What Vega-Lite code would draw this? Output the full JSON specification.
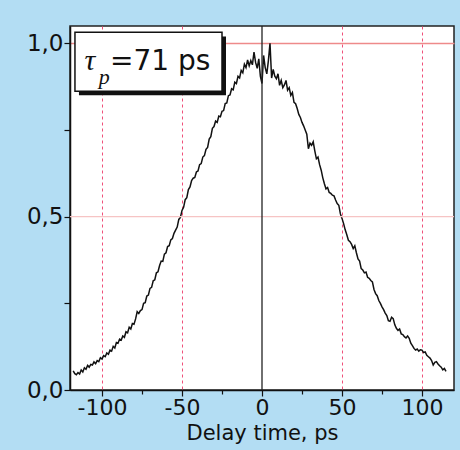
{
  "$schema": "https://vega.github.io/schema/vega-lite/v6.json",
  "width": 384,
  "height": 364,
  "autosize": {"type": "none"},
  "padding": {"left": 70, "top": 26, "right": 6, "bottom": 60},
  "background": "#b3ddf3",
  "config": {
    "view": {"fill": "white", "stroke": "#222222", "strokeWidth": 1.5},
    "font": "DejaVu Sans"
  },
  "datasets": {
    "curve": [
      {"t": -118, "s": 0.055}, {"t": -117, "s": 0.047}, {"t": -116, "s": 0.044}, {"t": -115, "s": 0.05}, {"t": -114, "s": 0.046},
      {"t": -113, "s": 0.058}, {"t": -112, "s": 0.052}, {"t": -111, "s": 0.064}, {"t": -110, "s": 0.06}, {"t": -109, "s": 0.071},
      {"t": -108, "s": 0.066}, {"t": -107, "s": 0.074}, {"t": -106, "s": 0.072}, {"t": -105, "s": 0.081}, {"t": -104, "s": 0.076},
      {"t": -103, "s": 0.085}, {"t": -102, "s": 0.082}, {"t": -101, "s": 0.093}, {"t": -100, "s": 0.089}, {"t": -99, "s": 0.099},
      {"t": -98, "s": 0.096}, {"t": -97, "s": 0.107}, {"t": -96, "s": 0.103}, {"t": -95, "s": 0.115}, {"t": -94, "s": 0.112},
      {"t": -93, "s": 0.126}, {"t": -92, "s": 0.121}, {"t": -91, "s": 0.137}, {"t": -90, "s": 0.135}, {"t": -89, "s": 0.147},
      {"t": -88, "s": 0.144}, {"t": -87, "s": 0.156}, {"t": -86, "s": 0.152}, {"t": -85, "s": 0.168}, {"t": -84, "s": 0.165},
      {"t": -83, "s": 0.181}, {"t": -82, "s": 0.176}, {"t": -81, "s": 0.192}, {"t": -80, "s": 0.19}, {"t": -79, "s": 0.205},
      {"t": -78, "s": 0.226}, {"t": -77, "s": 0.221}, {"t": -76, "s": 0.229}, {"t": -75, "s": 0.232}, {"t": -74, "s": 0.25},
      {"t": -73, "s": 0.252}, {"t": -72, "s": 0.271}, {"t": -71, "s": 0.274}, {"t": -70, "s": 0.293}, {"t": -69, "s": 0.296},
      {"t": -68, "s": 0.315}, {"t": -67, "s": 0.318}, {"t": -66, "s": 0.338}, {"t": -65, "s": 0.341}, {"t": -64, "s": 0.359},
      {"t": -63, "s": 0.372}, {"t": -62, "s": 0.371}, {"t": -61, "s": 0.392}, {"t": -60, "s": 0.396}, {"t": -59, "s": 0.414},
      {"t": -58, "s": 0.416}, {"t": -57, "s": 0.433}, {"t": -56, "s": 0.437}, {"t": -55, "s": 0.452}, {"t": -54, "s": 0.461},
      {"t": -53, "s": 0.47}, {"t": -52, "s": 0.492}, {"t": -51, "s": 0.498}, {"t": -50, "s": 0.518}, {"t": -49, "s": 0.527},
      {"t": -48, "s": 0.549}, {"t": -47, "s": 0.555}, {"t": -46, "s": 0.578}, {"t": -45, "s": 0.586}, {"t": -44, "s": 0.604},
      {"t": -43, "s": 0.611}, {"t": -42, "s": 0.613}, {"t": -41, "s": 0.629}, {"t": -40, "s": 0.632}, {"t": -39, "s": 0.65},
      {"t": -38, "s": 0.653}, {"t": -37, "s": 0.672}, {"t": -36, "s": 0.676}, {"t": -35, "s": 0.694}, {"t": -34, "s": 0.7},
      {"t": -33, "s": 0.724}, {"t": -32, "s": 0.731}, {"t": -31, "s": 0.755}, {"t": -30, "s": 0.76}, {"t": -29, "s": 0.776},
      {"t": -28, "s": 0.772}, {"t": -27, "s": 0.79}, {"t": -26, "s": 0.788}, {"t": -25, "s": 0.804}, {"t": -24, "s": 0.806},
      {"t": -23, "s": 0.826}, {"t": -22, "s": 0.828}, {"t": -21, "s": 0.849}, {"t": -20, "s": 0.851}, {"t": -19, "s": 0.869},
      {"t": -18, "s": 0.866}, {"t": -17, "s": 0.888}, {"t": -16, "s": 0.884}, {"t": -15, "s": 0.905}, {"t": -14, "s": 0.9},
      {"t": -13, "s": 0.922}, {"t": -12, "s": 0.915}, {"t": -11, "s": 0.94}, {"t": -10, "s": 0.93}, {"t": -9, "s": 0.952},
      {"t": -8, "s": 0.935}, {"t": -7, "s": 0.95}, {"t": -6, "s": 0.938}, {"t": -5, "s": 0.975}, {"t": -4, "s": 0.945},
      {"t": -3, "s": 0.928}, {"t": -2, "s": 0.955}, {"t": -1, "s": 0.905}, {"t": 0, "s": 0.884}, {"t": 1, "s": 0.965},
      {"t": 2, "s": 0.93}, {"t": 3, "s": 0.912}, {"t": 4, "s": 0.95}, {"t": 5, "s": 1.0}, {"t": 6, "s": 0.9},
      {"t": 7, "s": 0.925}, {"t": 8, "s": 0.905}, {"t": 9, "s": 0.898}, {"t": 10, "s": 0.912}, {"t": 11, "s": 0.879},
      {"t": 12, "s": 0.893}, {"t": 13, "s": 0.872}, {"t": 14, "s": 0.88}, {"t": 15, "s": 0.893}, {"t": 16, "s": 0.865},
      {"t": 17, "s": 0.872}, {"t": 18, "s": 0.85}, {"t": 19, "s": 0.858}, {"t": 20, "s": 0.83}, {"t": 21, "s": 0.826},
      {"t": 22, "s": 0.812}, {"t": 23, "s": 0.795}, {"t": 24, "s": 0.786}, {"t": 25, "s": 0.772}, {"t": 26, "s": 0.762},
      {"t": 27, "s": 0.75}, {"t": 28, "s": 0.738}, {"t": 29, "s": 0.696}, {"t": 30, "s": 0.712}, {"t": 31, "s": 0.706},
      {"t": 32, "s": 0.716}, {"t": 33, "s": 0.69}, {"t": 34, "s": 0.667}, {"t": 35, "s": 0.672}, {"t": 36, "s": 0.65},
      {"t": 37, "s": 0.634}, {"t": 38, "s": 0.612}, {"t": 39, "s": 0.595}, {"t": 40, "s": 0.58}, {"t": 41, "s": 0.584},
      {"t": 42, "s": 0.57}, {"t": 43, "s": 0.567}, {"t": 44, "s": 0.562}, {"t": 45, "s": 0.56}, {"t": 46, "s": 0.548},
      {"t": 47, "s": 0.538}, {"t": 48, "s": 0.533}, {"t": 49, "s": 0.508}, {"t": 50, "s": 0.495}, {"t": 51, "s": 0.48},
      {"t": 52, "s": 0.462}, {"t": 53, "s": 0.448}, {"t": 54, "s": 0.432}, {"t": 55, "s": 0.428}, {"t": 56, "s": 0.42},
      {"t": 57, "s": 0.408}, {"t": 58, "s": 0.416}, {"t": 59, "s": 0.396}, {"t": 60, "s": 0.378}, {"t": 61, "s": 0.372},
      {"t": 62, "s": 0.35}, {"t": 63, "s": 0.346}, {"t": 64, "s": 0.338}, {"t": 65, "s": 0.34}, {"t": 66, "s": 0.325},
      {"t": 67, "s": 0.322}, {"t": 68, "s": 0.316}, {"t": 69, "s": 0.312}, {"t": 70, "s": 0.29}, {"t": 71, "s": 0.278},
      {"t": 72, "s": 0.272}, {"t": 73, "s": 0.258}, {"t": 74, "s": 0.25}, {"t": 75, "s": 0.24}, {"t": 76, "s": 0.232},
      {"t": 77, "s": 0.222}, {"t": 78, "s": 0.215}, {"t": 79, "s": 0.2}, {"t": 80, "s": 0.198}, {"t": 81, "s": 0.21},
      {"t": 82, "s": 0.206}, {"t": 83, "s": 0.188}, {"t": 84, "s": 0.178}, {"t": 85, "s": 0.172}, {"t": 86, "s": 0.176},
      {"t": 87, "s": 0.162}, {"t": 88, "s": 0.16}, {"t": 89, "s": 0.154}, {"t": 90, "s": 0.15}, {"t": 91, "s": 0.156},
      {"t": 92, "s": 0.149}, {"t": 93, "s": 0.135}, {"t": 94, "s": 0.128}, {"t": 95, "s": 0.12}, {"t": 96, "s": 0.115},
      {"t": 97, "s": 0.118}, {"t": 98, "s": 0.112}, {"t": 99, "s": 0.116}, {"t": 100, "s": 0.115}, {"t": 101, "s": 0.108},
      {"t": 102, "s": 0.11}, {"t": 103, "s": 0.1}, {"t": 104, "s": 0.096}, {"t": 105, "s": 0.092}, {"t": 106, "s": 0.085},
      {"t": 107, "s": 0.072}, {"t": 108, "s": 0.08}, {"t": 109, "s": 0.082}, {"t": 110, "s": 0.075}, {"t": 111, "s": 0.07},
      {"t": 112, "s": 0.066}, {"t": 113, "s": 0.058}, {"t": 114, "s": 0.062}, {"t": 115, "s": 0.054}
    ],
    "note": [{"k": 1}]
  },
  "layer": [
    {
      "data": {"name": "curve"},
      "mark": {"type": "line", "color": "#111111", "strokeWidth": 1.5, "interpolate": "linear"},
      "encoding": {
        "x": {
          "field": "t", "type": "quantitative",
          "scale": {"domain": [-120, 120], "nice": false, "zero": false},
          "axis": {
            "title": "Delay time, ps",
            "titleFont": "DejaVu Sans", "titleFontSize": 21, "titleFontWeight": "normal", "titleColor": "#111111", "titlePadding": 4,
            "values": [-100, -75, -50, -25, 0, 25, 50, 75, 100],
            "labelExpr": "datum.value % 50 === 0 ? '' + datum.value : ''",
            "labelFont": "DejaVu Sans", "labelFontSize": 22, "labelColor": "#111111", "labelPadding": 1,
            "domainColor": "#111111", "domainWidth": 1.5,
            "tickColor": "#111111", "tickWidth": 1.2,
            "tickSize": {"condition": {"test": "datum.value % 50 !== 0", "value": 4}, "value": 6},
            "grid": true,
            "gridColor": "#f0507a", "gridDash": [3, 3], "gridWidth": 1,
            "gridOpacity": {"condition": {"test": "datum.value % 50 !== 0 || datum.value === 0", "value": 0}, "value": 1}
          }
        },
        "y": {
          "field": "s", "type": "quantitative",
          "scale": {"domain": [0, 1.05], "nice": false},
          "axis": {
            "title": null,
            "values": [0, 0.25, 0.5, 0.75, 1],
            "labelExpr": "(datum.value * 100) % 50 === 0 ? replace(format(datum.value, '.1f'), '.', ',') : ''",
            "labelFont": "DejaVu Sans", "labelFontSize": 23, "labelColor": "#111111", "labelPadding": 1,
            "domainColor": "#111111", "domainWidth": 1.5,
            "tickColor": "#111111", "tickWidth": 1.2, "tickSize": 6,
            "grid": true,
            "gridColor": "#ee8a8a",
            "gridWidth": 1.5,
            "gridOpacity": {"condition": {"test": "datum.value === 1", "value": 1}, "value": 0}
          }
        }
      }
    },
    {
      "data": {"name": "note"},
      "mark": {"type": "rule", "color": "#f6c4c4", "strokeWidth": 1.3},
      "encoding": {"y": {"datum": 0.5}}
    },
    {
      "data": {"name": "note"},
      "mark": {"type": "rule", "color": "#222222", "strokeWidth": 1.3},
      "encoding": {"x": {"datum": 0}}
    },
    {
      "data": {"name": "note"},
      "mark": {"type": "rect", "color": "#111111"},
      "encoding": {
        "x": {"datum": -114.4}, "x2": {"datum": -22.5},
        "y": {"datum": 1.02}, "y2": {"datum": 0.85}
      }
    },
    {
      "data": {"name": "note"},
      "mark": {"type": "rect", "fill": "white", "stroke": "#111111", "strokeWidth": 1.5},
      "encoding": {
        "x": {"datum": -116.9}, "x2": {"datum": -25},
        "y": {"datum": 1.032}, "y2": {"datum": 0.862}
      }
    },
    {
      "data": {"name": "note"},
      "mark": {"type": "text", "text": "τ", "font": "Liberation Serif", "fontStyle": "italic", "fontSize": 30, "align": "left", "baseline": "alphabetic", "color": "#111111"},
      "encoding": {"x": {"datum": -111}, "y": {"datum": 0.922}}
    },
    {
      "data": {"name": "note"},
      "mark": {"type": "text", "text": "p", "font": "Liberation Serif", "fontStyle": "italic", "fontSize": 22, "align": "left", "baseline": "alphabetic", "color": "#111111"},
      "encoding": {"x": {"datum": -102}, "y": {"datum": 0.884}}
    },
    {
      "data": {"name": "note"},
      "mark": {"type": "text", "text": "=71 ps", "font": "DejaVu Sans", "fontSize": 28, "align": "left", "baseline": "alphabetic", "color": "#111111"},
      "encoding": {"x": {"datum": -95}, "y": {"datum": 0.922}}
    }
  ]
}
